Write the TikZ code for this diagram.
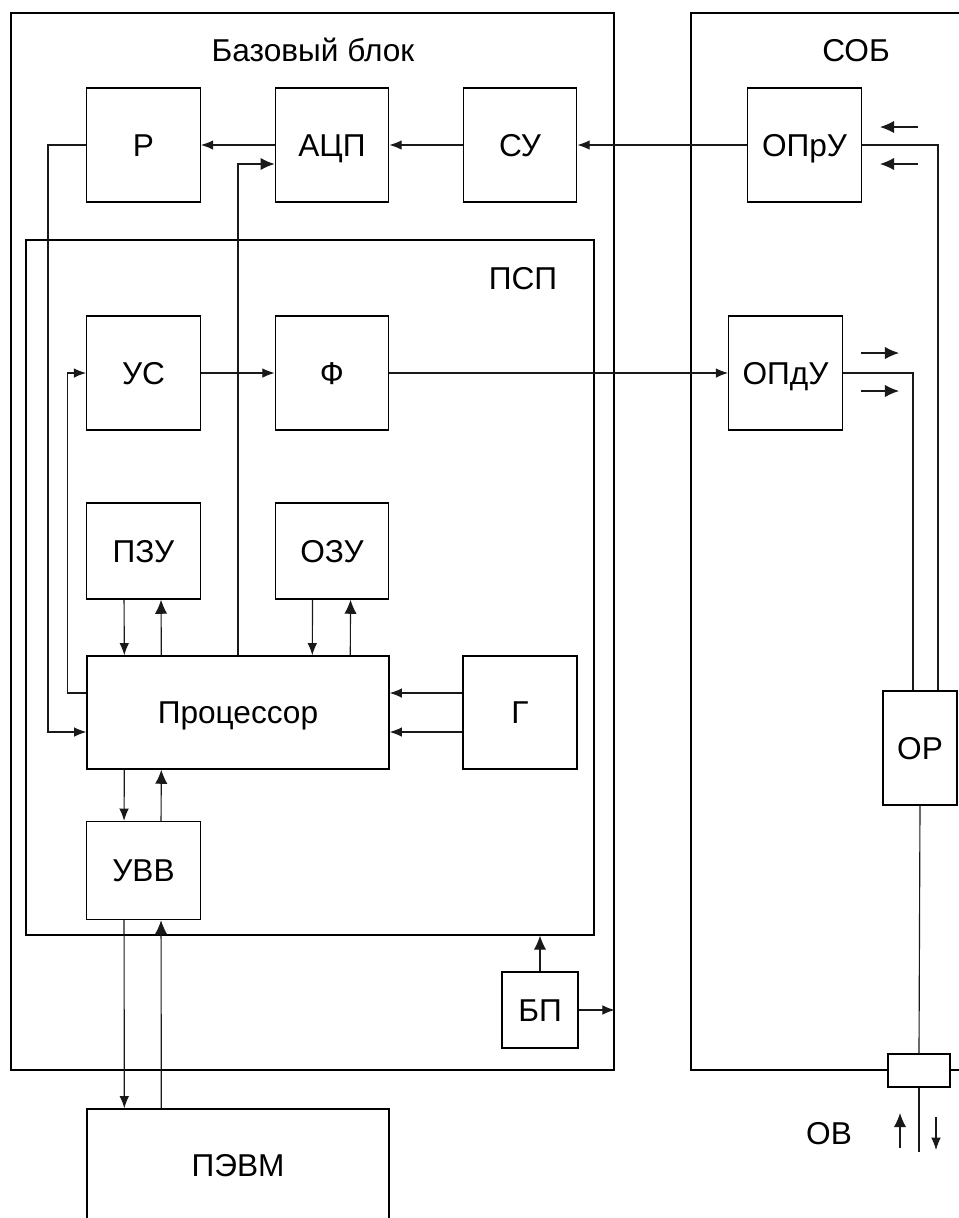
\documentclass[tikz,border=0pt]{standalone}
\usepackage{fontspec}
\setmainfont{Liberation Sans}
\usetikzlibrary{arrows.meta}
\begin{document}
\begin{tikzpicture}[x=0.02cm,y=-0.02cm,
  fnt/.style={font=\fontsize{18}{22}\selectfont},
  blk/.style={draw, line width=0.8pt, inner sep=0pt, fnt, text height=13pt, text depth=0pt},
  sq/.style={blk, minimum width=2.27cm, minimum height=2.28cm},
  lbl/.style={fnt, inner sep=0pt, text height=13pt, text depth=0pt},
  con/.style={line width=0.65pt, draw=black!90},
  arr/.style={con, -{Latex[length=7pt,width=5.5pt]}},
  arrb/.style={con, -{Latex[length=8pt,width=7pt]}}]
\useasboundingbox (0,0) rectangle (959,1218);
% containers
\node[blk, minimum width=12.06cm, minimum height=21.14cm] (base) at (312.5,541.5) {};
\node[lbl] (baset) at (313,50) {Базовый блок};
\draw[line width=0.8pt] (965,13) -- (691,13) -- (691,1070) -- (965,1070);
\node[lbl] (sobt) at (856,50) {СОБ};
\node[blk, minimum width=11.36cm, minimum height=13.9cm] (psp) at (310,587.5) {};
\node[lbl] (pspt) at (523,278) {ПСП};
% blocks
\node[sq] (r) at (143.5,145) {Р};
\node[sq] (adc) at (332,145) {АЦП};
\node[sq] (su) at (520,145) {СУ};
\node[sq] (opru) at (804.5,145) {ОПрУ};
\node[sq] (us) at (143.5,373) {УС};
\node[sq] (f) at (332,373) {Ф};
\node[sq] (opdu) at (785.5,373) {ОПдУ};
\node[blk, minimum width=2.27cm, minimum height=1.92cm] (pzu) at (143.5,551) {ПЗУ};
\node[blk, minimum width=2.27cm, minimum height=1.92cm] (ozu) at (332,551) {ОЗУ};
\node[blk, minimum width=6.04cm, minimum height=2.26cm] (cpu) at (238,712.5) {Процессор};
\node[blk, minimum width=2.28cm, minimum height=2.26cm] (g) at (520,712.5) {Г};
\node[blk, minimum width=2.27cm, minimum height=1.96cm] (uvv) at (143.5,870.5) {УВВ};
\node[blk, minimum width=1.52cm, minimum height=1.52cm] (bp) at (540,1010) {БП};
\node[blk, minimum width=6.04cm, minimum height=3.2cm] (pevm) at (238,1189) {};
\node[lbl] (pevmt) at (238,1165) {ПЭВМ};
\node[blk, minimum width=1.48cm, minimum height=2.28cm] (or) at (920,748) {ОР};
\node[blk, fill=white, minimum width=1.24cm, minimum height=0.66cm] (conn) at (919,1070.5) {};
\node[lbl] (ov) at (829,1133) {ОВ};
% connectors
\draw[arr] (opru.west) -- (su.east);
\draw[arr] (su.west) -- (adc.east);
\draw[arr] (adc.west) -- (r.east);
\draw[arr] (r.west) -- ++(-38,0) |- ([yshift=-0.39cm]cpu.west);
\draw[arr] ([yshift=0.39cm]cpu.west) -- ++(-19,0) |- (us.west);
\draw[arr] (us.east) -- (f.west);
\draw[arr] (f.east) -- (opdu.west);
\draw[arrb] (cpu.north) |- ([yshift=-0.38cm]adc.west);
\draw[arr] ([xshift=0.76cm]pzu.south west) -- ([xshift=0.76cm]cpu.north west);
\draw[arrb] ([xshift=1.5cm]cpu.north west) -- ([xshift=1.5cm]pzu.south west);
\draw[arr] ([xshift=0.76cm]ozu.south west) -- ([xshift=4.52cm]cpu.north west);
\draw[arrb] ([xshift=5.28cm]cpu.north west) -- ([xshift=1.52cm]ozu.south west);
\draw[arr] ([yshift=0.39cm]g.west) -- ([yshift=0.39cm]cpu.east);
\draw[arr] ([yshift=-0.39cm]g.west) -- ([yshift=-0.39cm]cpu.east);
\draw[arr] ([xshift=0.76cm]cpu.south west) -- ([xshift=0.76cm]uvv.north west);
\draw[arrb] ([xshift=1.5cm]uvv.north west) -- ([xshift=1.5cm]cpu.south west);
\draw[arr] ([xshift=0.76cm]uvv.south west) -- ([xshift=0.76cm]pevm.north west);
\draw[arrb] ([xshift=1.5cm]pevm.north west) -- ([xshift=1.5cm]uvv.south west);
\draw[arrb] (bp.north) -- (bp.north |- psp.south);
\draw[arr] (bp.east) -- (bp.east -| base.east);
\draw[con] (opdu.east) -| ([xshift=-0.14cm]or.north);
\draw[con] (opru.east) -| ([xshift=0.36cm]or.north);
\draw[con] (or.south) -- (conn.north);
\coordinate (ovend) at (919,1152);
\draw[con] (conn.south) -- (ovend);
% free signal arrows
\coordinate (a1s) at (918,127); \coordinate (a1e) at (880,127);
\coordinate (a2s) at (918,164); \coordinate (a2e) at (880,164);
\coordinate (b1s) at (861,353); \coordinate (b1e) at (899,353);
\coordinate (b2s) at (861,391); \coordinate (b2e) at (899,391);
\coordinate (c1s) at (900,1148); \coordinate (c1e) at (900,1113);
\coordinate (c2s) at (936,1117); \coordinate (c2e) at (936,1150);
\draw[arrb] (a1s) -- (a1e);
\draw[arrb] (a2s) -- (a2e);
\draw[arrb] (b1s) -- (b1e);
\draw[arrb] (b2s) -- (b2e);
\draw[arrb] (c1s) -- (c1e);
\draw[arr] (c2s) -- (c2e);
\end{tikzpicture}
\end{document}
